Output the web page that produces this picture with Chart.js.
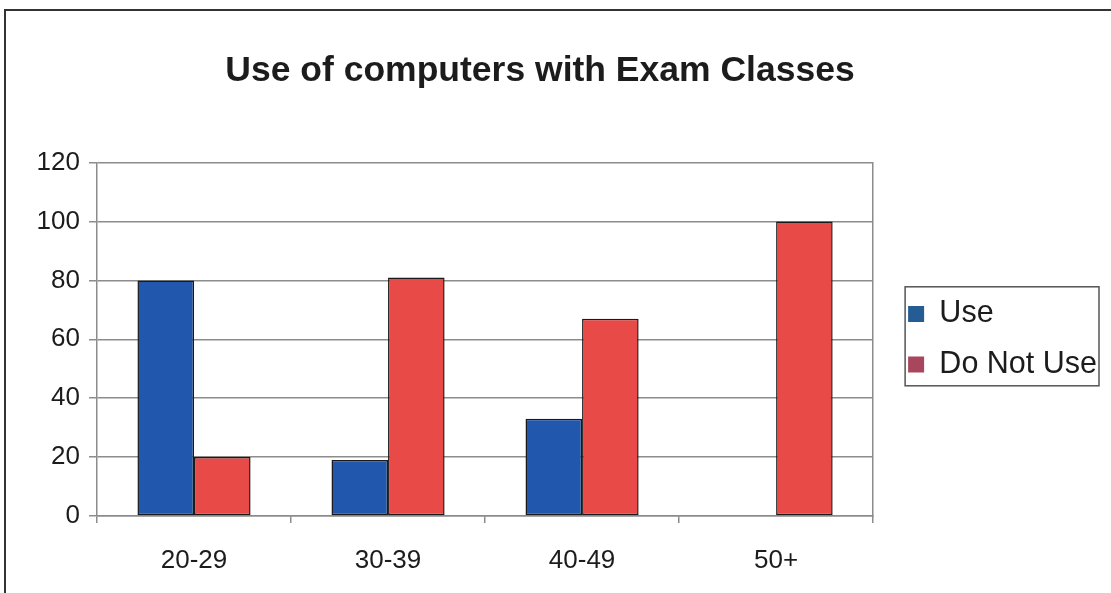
<!DOCTYPE html>
<html>
<head>
<meta charset="utf-8">
<title>Use of computers with Exam Classes</title>
<script src="https://cdn.jsdelivr.net/npm/chart.js@4.4.1/dist/chart.umd.min.js"></script>
<style>
  html, body { margin: 0; padding: 0; background: #fff; overflow: hidden; }
  #wrap { position: relative; width: 1111px; height: 593px; overflow: hidden; background: #fff; }
  #chart { position: absolute; left: -27px; top: 0; }
  #frame { position: absolute; left: 4px; top: 9px; right: -10px; bottom: -10px;
           border-left: 2px solid #333; border-top: 2px solid #333; pointer-events: none; }
</style>
</head>
<body>
<div id="wrap">
  <canvas id="chart" width="1138" height="593"></canvas>
  <div id="frame"></div>
</div>
<script>
// data
const categories = ["20-29", "30-39", "40-49", "50+"];
const useValues = [80, 19, 33, 0];
const doNotUseValues = [20, 81, 67, 100];
const yTicks = [0, 20, 40, 60, 80, 100, 120];

const FONT = "'Liberation Sans', Arial, sans-serif";
const GRID = "#8c8c8c";
const TEXT = "#1c1c1c";
const legendColors = ["#245c93", "#a8465e"];

// thin box round the legend, like the spreadsheet one
const legendBox = {
  id: "legendBox",
  afterDraw(chart) {
    const lg = chart.legend;
    const hb = lg.legendHitBoxes;
    if (!hb || !hb.length) return;
    const first = hb[0], last = hb[hb.length - 1];
    const ctx = chart.ctx;
    const x0 = first.left - 3, y0 = first.top - 12;
    const x1 = lg.right - 8, y1 = last.top + last.height + 6;
    ctx.save();
    ctx.strokeStyle = "#555";
    ctx.lineWidth = 1.5;
    ctx.strokeRect(x0, y0, x1 - x0, y1 - y0);
    ctx.restore();
  }
};

new Chart(document.getElementById("chart"), {
  type: "bar",
  data: {
    labels: categories,
    datasets: [
      {
        label: "Use",
        data: useValues,
        backgroundColor: "#2157ad",
        borderColor: "#1a1a1a",
        borderWidth: 1.5,
        borderSkipped: false
      },
      {
        label: "Do Not Use",
        data: doNotUseValues,
        backgroundColor: "#e84a48",
        borderColor: "#1a1a1a",
        borderWidth: 1.5,
        borderSkipped: false
      }
    ]
  },
  options: {
    responsive: false,
    animation: false,
    layout: { padding: { left: 0, right: 4, top: 0, bottom: 0 } },
    datasets: { bar: { categoryPercentage: 0.583, barPercentage: 1 } },
    plugins: {
      title: {
        display: true,
        text: "Use of computers with Exam Classes",
        color: TEXT,
        font: { family: FONT, size: 35.5, weight: "bold" },
        padding: { top: 50, bottom: 70 }
      },
      legend: {
        position: "right",
        fullSize: false,
        maxWidth: 300,
        labels: {
          color: TEXT,
          font: { family: FONT, size: 30.5 },
          boxWidth: 16,
          boxHeight: 16,
          padding: 20,
          generateLabels(chart) {
            return chart.data.datasets.map((ds, i) => ({
              text: ds.label,
              fillStyle: legendColors[i],
              strokeStyle: legendColors[i],
              lineWidth: 0,
              hidden: false,
              datasetIndex: i,
              fontColor: TEXT
            }));
          }
        }
      },
      tooltip: { enabled: false }
    },
    scales: {
      x: {
        grid: { offset: true, drawOnChartArea: false, drawTicks: true, tickLength: 7, color: GRID, lineWidth: 1.5 },
        border: { color: GRID, width: 1.5 },
        ticks: { color: TEXT, font: { family: FONT, size: 26 }, padding: 22 },
        afterFit(s) { s.height = 77; }
      },
      y: {
        min: 0,
        max: 120,
        afterBuildTicks(s) { s.ticks = yTicks.map(v => ({ value: v })); },
        grid: { color: GRID, lineWidth: 1.5, tickLength: 8 },
        border: { color: GRID, width: 1.5 },
        ticks: { color: TEXT, font: { family: FONT, size: 26 }, padding: 9 },
        afterFit(s) { s.width = 124; }
      },
      edge: {
        type: "linear",
        position: "right",
        display: true,
        grid: { drawOnChartArea: false, drawTicks: false },
        border: { color: GRID, width: 1.5 },
        ticks: { display: false },
        afterFit(s) { s.width = 15; }
      }
    }
  },
  plugins: [legendBox]
});
</script>
</body>
</html>
